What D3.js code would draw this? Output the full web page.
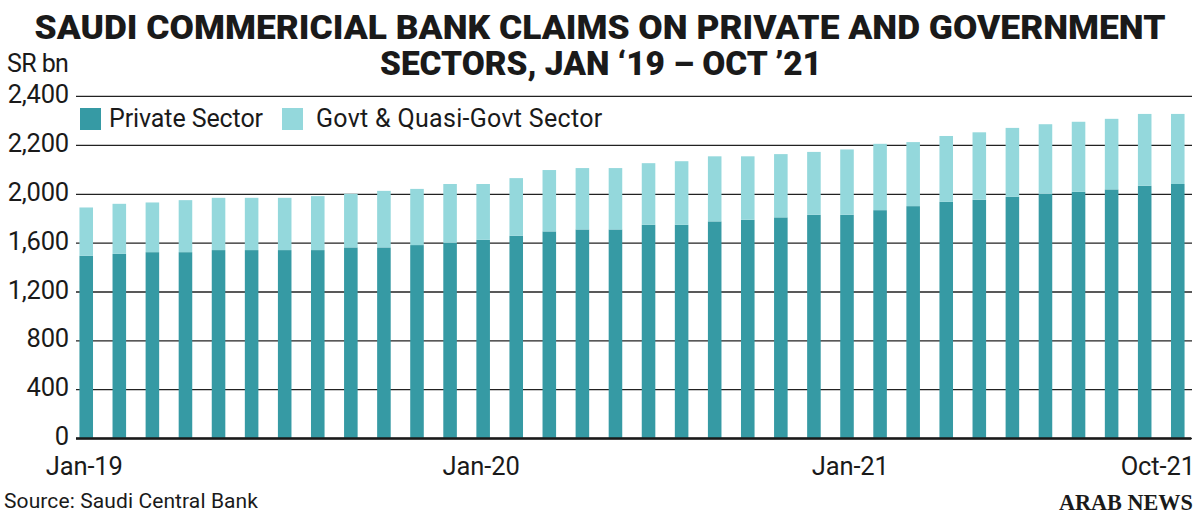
<!DOCTYPE html>
<html lang="en">
<head>
<meta charset="UTF-8">
<title>Saudi commercial bank claims</title>
<script src="https://cdn.jsdelivr.net/npm/d3@7"></script>
<style>
  body { margin: 0; background: #fff; }
  text { font-family: Roboto, "Noto Sans", sans-serif; fill: #1a1a1a; }
  text.brand { font-family: "Liberation Serif", "DejaVu Serif", serif; font-weight: 700; }
</style>
</head>
<body>
<script>
// values in SR bn
const months = ["Jan-19","Feb-19","Mar-19","Apr-19","May-19","Jun-19","Jul-19","Aug-19","Sep-19","Oct-19","Nov-19","Dec-19",
                "Jan-20","Feb-20","Mar-20","Apr-20","May-20","Jun-20","Jul-20","Aug-20","Sep-20","Oct-20","Nov-20","Dec-20",
                "Jan-21","Feb-21","Mar-21","Apr-21","May-21","Jun-21","Jul-21","Aug-21","Sep-21","Oct-21"];
const privateSector = [1492,1508,1522,1522,1539,1539,1539,1539,1561,1561,1580,1598,
                       1623,1656,1692,1708,1708,1746,1746,1774,1787,1807,1828,1828,
                       1866,1899,1934,1951,1975,2000,2008,2018,2033,2040];
const govtSector = [396,410,407,426,428,428,428,442,439,451,440,442,
                    417,408,405,397,397,379,387,379,366,355,343,353,
                    338,312,302,300,294,284,286,288,293,286];
const yTicks = [0, 400, 800, 1200, 1600, 2000, 2200, 2400];
const xLabels = ["Jan-19", "Jan-20", "Jan-21", "Oct-21"];
const seriesNames = ["Private Sector", "Govt & Quasi-Govt Sector"];

const w = 1200, h = 524;
const left = 76, right = 1192;

const svg = d3.select("body").append("svg")
  .attr("width", w)
  .attr("height", h);

const rows = months.map((m, i) => ({ month: m, priv: privateSector[i], govt: govtSector[i] }));
const series = d3.stack().keys(["priv", "govt"])(rows);

const x = d3.scaleBand()
  .domain(months)
  .range([73, 1191])
  .paddingInner(0.59)
  .paddingOuter(0.195);

// the printed axis steps 400 up to 2,000 and 200 above it
const y = d3.scaleLinear()
  .domain([0, 2000, 2400])
  .range([438, 193.8, 95.8]);

const color = d3.scaleOrdinal()
  .domain(["priv", "govt"])
  .range(["#369aa4", "#94d8dc"]);

// title
const title = svg.append("g").attr("font-weight", 900).attr("font-size", 33);
title.append("text")
  .attr("x", 600).attr("y", 39)
  .attr("text-anchor", "middle")
  .attr("textLength", 1131).attr("lengthAdjust", "spacingAndGlyphs")
  .text("SAUDI COMMERICIAL BANK CLAIMS ON PRIVATE AND GOVERNMENT");
title.append("text")
  .attr("x", 601).attr("y", 75)
  .attr("text-anchor", "middle")
  .attr("textLength", 442).attr("lengthAdjust", "spacingAndGlyphs")
  .text("SECTORS, JAN \u201819 \u2013 OCT \u201921");

svg.append("text")
  .attr("x", 7).attr("y", 72)
  .attr("font-size", 25).attr("letter-spacing", -0.6)
  .text("SR bn");

// y axis with gridlines
const yAxis = svg.append("g")
  .attr("transform", "translate(" + left + ",0)")
  .call(d3.axisLeft(y)
    .tickValues(yTicks)
    .tickSize(-(right - left))
    .tickPadding(7)
    .tickFormat(d3.format(",")));
yAxis.select(".domain").remove();
yAxis.selectAll(".tick line").attr("stroke", "#222").attr("stroke-width", 1.3);
yAxis.selectAll(".tick text")
  .attr("font-size", 25.5)
  .attr("dy", "0.26em")
  .attr("letter-spacing", -0.2)
  .attr("fill", "#1a1a1a");

// bars
svg.append("g")
  .selectAll("g")
  .data(series)
  .enter()
  .append("g")
  .attr("fill", d => color(d.key))
  .selectAll("rect")
  .data(d => d)
  .enter()
  .append("rect")
  .attr("x", d => x(d.data.month))
  .attr("y", d => y(d[1]))
  .attr("width", x.bandwidth())
  .attr("height", d => y(d[0]) - y(d[1]));

// baseline
svg.append("line")
  .attr("x1", left).attr("x2", right - 1)
  .attr("y1", y(0) + 0.5).attr("y2", y(0) + 0.5)
  .attr("stroke", "#1a1a1a")
  .attr("stroke-width", 2.4);

// x labels
svg.append("g")
  .selectAll("text")
  .data(xLabels)
  .enter()
  .append("text")
  .attr("y", 475)
  .attr("font-size", 25.5)
  .attr("letter-spacing", -0.1)
  .attr("text-anchor", (d, i) => i < 2 ? "middle" : "end")
  .attr("x", (d, i) => {
    if (i < 2) return x(d) + x.bandwidth() / 2 - 2;
    if (i === xLabels.length - 1) return right + 3;
    return x(d) + x.bandwidth() + 2;
  })
  .text(d => d);

// legend
const legend = svg.append("g")
  .selectAll("g")
  .data(seriesNames)
  .enter()
  .append("g")
  .attr("transform", (d, i) => "translate(" + (i === 0 ? 80 : 282) + ",108)");
legend.append("rect")
  .attr("width", 21).attr("height", 22)
  .attr("fill", (d, i) => color.range()[i]);
legend.append("text")
  .attr("x", (d, i) => i === 0 ? 29 : 34)
  .attr("y", 19)
  .attr("font-size", 25)
  .attr("letter-spacing", (d, i) => i === 0 ? -0.1 : 0.3)
  .text(d => d);

// footer
svg.append("text")
  .attr("x", 4).attr("y", 508)
  .attr("font-size", 21)
  .attr("letter-spacing", 0.1)
  .text("Source: Saudi Central Bank");

// masthead, squeezed to the logo's width
const brand = svg.append("g");
const brandText = brand.append("text")
  .attr("class", "brand")
  .attr("font-size", 24)
  .text("ARAB NEWS");
const sx = 134 / brandText.node().getComputedTextLength();
brand.attr("transform", "translate(1059,510) scale(" + sx + ",1)");
</script>
</body>
</html>
